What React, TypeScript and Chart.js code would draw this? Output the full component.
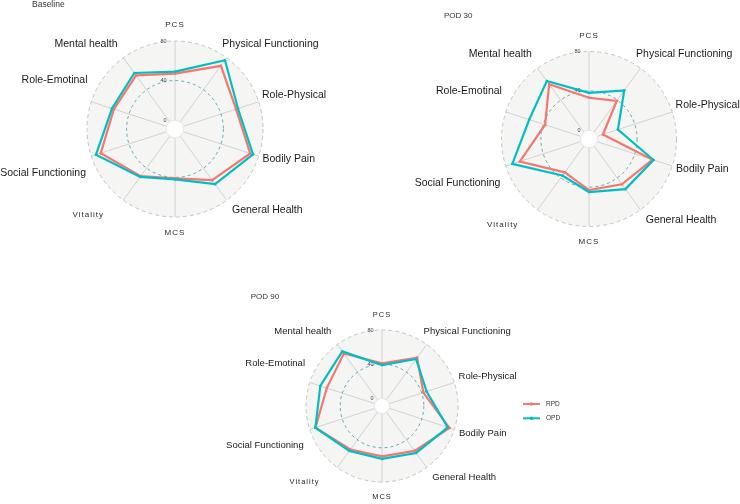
import React, { useEffect, useRef } from 'react';
import { Chart, registerables } from 'chart.js';

Chart.register(...registerables);

// ---- data ----
const CATEGORIES = [
  'PCS',
  'Physical Functioning',
  'Role-Physical',
  'Bodily Pain',
  'General Health',
  'MCS',
  'Vitality',
  'Social Functioning',
  'Role-Emotinal',
  'Mental health',
];
const SERIES = ['RPD', 'OPD'];
const TICKS = [0, 40, 80];
const TITLES = ['Baseline', 'POD 30', 'POD 90'];

const baselineRPD = [47, 70, 56, 71, 55, 41, 50, 70, 56, 58];
const baselineOPD = [49, 77, 58, 74, 60, 42, 51, 75, 58, 61];
const pod30RPD = [33, 39, 6, 59, 48, 43, 33, 65, 38, 60];
const pod30OPD = [38, 52, 22, 60, 54, 45, 37, 73, 55, 64];
const pod90RPD = [41, 61, 42, 74, 56, 50, 54, 73, 59, 67];
const pod90OPD = [39, 59, 46, 72, 59, 53, 56, 73, 67, 70];

// ---- style ----
const RED = '#F8766D';
const TEAL = '#00BFC4';
const FONT = '"Liberation Sans", Arial, Helvetica, sans-serif';
const GRID_MIN = TICKS[0];
const GRID_MAX = TICKS[TICKS.length - 1];
const CENTRE = GRID_MIN - (GRID_MAX - GRID_MIN) / 9;
const SMALL_LABELS = ['PCS', 'MCS', 'Vitality'];

// label anchor, in units of (R + 12) from centre, and alignment
const LABEL_LAYOUT: [number, number, CanvasTextAlign][] = [
  [0, -1.04, 'center'],
  [0.473, -0.853, 'left'],
  [0.87, -0.34, 'left'],
  [0.875, 0.306, 'left'],
  [0.57, 0.815, 'left'],
  [0, 1.035, 'center'],
  [-0.71, 0.862, 'right'],
  [-0.89, 0.445, 'right'],
  [-0.875, -0.485, 'right'],
  [-0.575, -0.852, 'right'],
];

type Panel = {
  title: string;
  rpd: number[];
  opd: number[];
  left: number;
  top: number;
  w: number;
  h: number;
  R: number;
  big: number;
  small: number;
  titleX: number;
  titleY: number;
  titleSize: number;
  legend?: boolean;
};

const PANELS: Panel[] = [
  { title: TITLES[0], rpd: baselineRPD, opd: baselineOPD, left: 0, top: 0, w: 350, h: 258, R: 88, big: 10.5, small: 8, titleX: 32, titleY: 4.5, titleSize: 8.5 },
  { title: TITLES[1], rpd: pod30RPD, opd: pod30OPD, left: 400, top: 0, w: 378, h: 278, R: 87.5, big: 10.5, small: 8, titleX: 444, titleY: 15.5, titleSize: 8 },
  { title: TITLES[2], rpd: pod90RPD, opd: pod90OPD, left: 182, top: 290, w: 400, h: 232, R: 76, big: 9.5, small: 7.5, titleX: 250.7, titleY: 297, titleSize: 8, legend: true },
];

function decor(p: Panel) {
  return {
    id: 'decor',
    beforeDatasetsDraw(chart: any) {
      const s = chart.scales.r;
      const ctx: CanvasRenderingContext2D = chart.ctx;
      const cx = s.xCenter;
      const cy = s.yCenter;
      const rMax = s.getDistanceFromCenterForValue(GRID_MAX);
      const rMin = s.getDistanceFromCenterForValue(GRID_MIN);
      const rMid = s.getDistanceFromCenterForValue(TICKS[1]);
      ctx.save();
      // background disc
      ctx.beginPath();
      ctx.arc(cx, cy, rMax, 0, Math.PI * 2);
      ctx.fillStyle = '#F5F5F4';
      ctx.fill();
      // spokes
      ctx.strokeStyle = '#D2D2D2';
      ctx.lineWidth = 1;
      for (let i = 0; i < CATEGORIES.length; i++) {
        const a = s.getPointPosition(i, rMin);
        const b = s.getPointPosition(i, rMax);
        ctx.beginPath();
        ctx.moveTo(a.x, a.y);
        ctx.lineTo(b.x, b.y);
        ctx.stroke();
      }
      // inner hole
      ctx.beginPath();
      ctx.arc(cx, cy, rMin, 0, Math.PI * 2);
      ctx.fillStyle = '#FFFFFF';
      ctx.fill();
      ctx.strokeStyle = '#E6E6E6';
      ctx.stroke();
      // outer dashed circle
      ctx.setLineDash([4, 3]);
      ctx.beginPath();
      ctx.arc(cx, cy, rMax, 0, Math.PI * 2);
      ctx.strokeStyle = '#C4C4C4';
      ctx.lineWidth = 1;
      ctx.stroke();
      // mid dashed circle
      ctx.setLineDash([3, 3]);
      ctx.beginPath();
      ctx.arc(cx, cy, rMid, 0, Math.PI * 2);
      ctx.strokeStyle = 'rgba(0,122,135,0.6)';
      ctx.stroke();
      ctx.setLineDash([]);
      // tick labels
      ctx.font = `5.5px ${FONT}`;
      ctx.fillStyle = '#444';
      ctx.textAlign = 'right';
      ctx.textBaseline = 'middle';
      TICKS.forEach((t) => {
        const r = s.getDistanceFromCenterForValue(t);
        ctx.fillText(String(t), cx - 8.5, cy - r);
      });
      // axis labels
      const unit = rMax + 12;
      CATEGORIES.forEach((lab, i) => {
        const [nx, ny, align] = LABEL_LAYOUT[i];
        const small = SMALL_LABELS.includes(lab);
        ctx.font = `${small ? p.small : p.big}px ${FONT}`;
        (ctx as any).letterSpacing = small ? '1px' : '0px';
        ctx.fillStyle = small ? '#2a2a2a' : '#1a1a1a';
        ctx.textAlign = align;
        ctx.textBaseline = 'middle';
        ctx.fillText(lab, cx + nx * unit, cy + ny * unit);
      });
      (ctx as any).letterSpacing = '0px';
      // title
      ctx.font = `${p.titleSize}px ${FONT}`;
      ctx.fillStyle = '#333';
      ctx.textAlign = 'left';
      ctx.textBaseline = 'middle';
      ctx.fillText(p.title, p.titleX - p.left, p.titleY - p.top);
      // legend
      if (p.legend) {
        const rows = [
          { name: SERIES[0], color: RED, y: 404 },
          { name: SERIES[1], color: TEAL, y: 418.3 },
        ];
        rows.forEach((row) => {
          const y = row.y - p.top;
          const x0 = 523 - p.left;
          const x1 = 540 - p.left;
          ctx.strokeStyle = row.color;
          ctx.lineWidth = 2;
          ctx.beginPath();
          ctx.moveTo(x0, y);
          ctx.lineTo(x1, y);
          ctx.stroke();
          ctx.fillStyle = row.color;
          ctx.beginPath();
          ctx.arc((x0 + x1) / 2, y, 1.8, 0, Math.PI * 2);
          ctx.fill();
          ctx.font = `6.5px ${FONT}`;
          ctx.fillStyle = '#333';
          ctx.textAlign = 'left';
          ctx.fillText(row.name, 546 - p.left, y);
        });
      }
      ctx.restore();
    },
  };
}

function RadarPanel({ p }: { p: Panel }) {
  const ref = useRef<HTMLCanvasElement>(null);
  useEffect(() => {
    if (!ref.current) return;
    const D = Math.min(p.w, p.h) / 2;
    const max = CENTRE + ((GRID_MAX - CENTRE) * D) / p.R;
    const chart = new Chart(ref.current, {
      type: 'radar',
      data: {
        labels: CATEGORIES,
        datasets: [
          { label: SERIES[0], data: p.rpd, borderColor: RED, backgroundColor: RED, pointBackgroundColor: RED, order: 1 },
          { label: SERIES[1], data: p.opd, borderColor: TEAL, backgroundColor: TEAL, pointBackgroundColor: TEAL, order: 0 },
        ],
      },
      options: {
        responsive: false,
        animation: false,
        layout: { padding: 0 },
        plugins: { legend: { display: false }, tooltip: { enabled: false }, title: { display: false } },
        elements: {
          line: { borderWidth: 2.2, tension: 0, fill: false },
          point: { radius: 1.3, borderWidth: 0, hoverRadius: 1.3 },
        },
        scales: {
          r: {
            min: CENTRE,
            max,
            startAngle: 0,
            grid: { display: false },
            angleLines: { display: false },
            ticks: { display: false },
            pointLabels: { display: false },
          },
        },
      } as any,
      plugins: [decor(p)],
    });
    return () => chart.destroy();
  }, []);
  return (
    <canvas
      ref={ref}
      width={p.w}
      height={p.h}
      style={{ position: 'absolute', left: p.left, top: p.top, width: p.w, height: p.h }}
    />
  );
}

export default function App() {
  return (
    <div style={{ position: 'fixed', left: 0, top: 0, width: 740, height: 504, overflow: 'hidden', background: '#fff' }}>
      {PANELS.map((p) => (
        <RadarPanel key={p.title} p={p} />
      ))}
    </div>
  );
}
